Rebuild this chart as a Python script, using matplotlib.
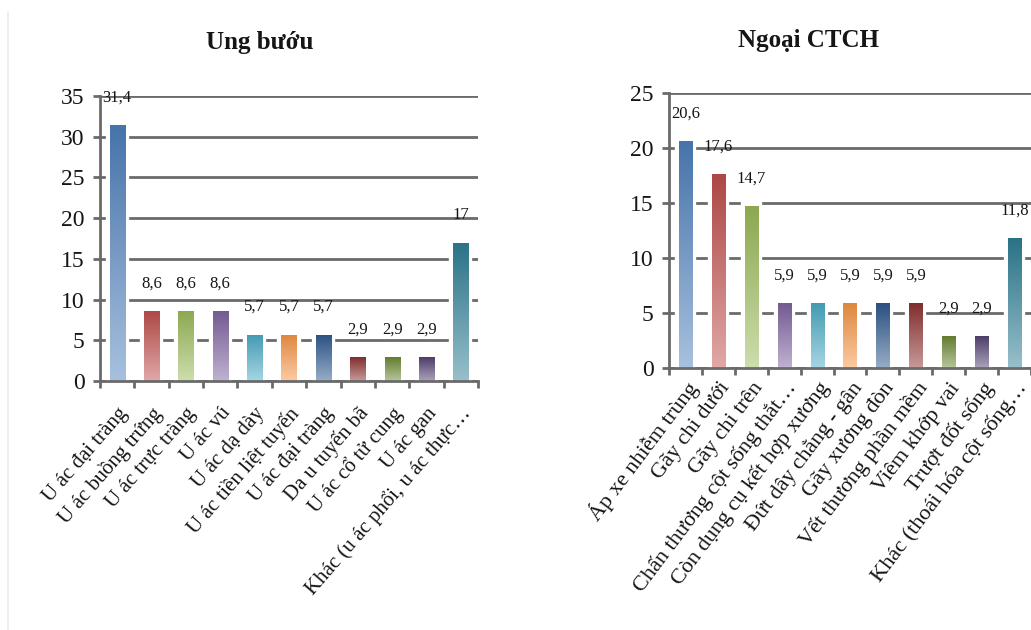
import matplotlib.pyplot as plt
import numpy as np
from matplotlib.colors import to_rgb
from matplotlib.lines import Line2D
from matplotlib.transforms import ScaledTranslation

# Ung buou (oncology) panel
onco_labels = [
    'U ác đại tràng', 'U ác buồng trứng', 'U ác trực tràng', 'U ác vú',
    'U ác dạ dày', 'U ác tiền liệt tuyến', 'U ác đại tràng', 'Da u tuyến bã',
    'U ác cổ tử cung', 'U ác gan', 'Khác (u ác phổi, u ác thực…',
]
onco_values = [31.4, 8.6, 8.6, 8.6, 5.7, 5.7, 5.7, 2.9, 2.9, 2.9, 17]

# Ngoai CTCH (orthopaedic surgery) panel
ortho_labels = [
    'Áp xe nhiễm trùng', 'Gãy chi dưới', 'Gãy chi trên',
    'Chấn thương cột sống thắt…', 'Còn dụng cụ kết hợp xương',
    'Đứt dây chằng - gân', 'Gãy xương đòn', 'Vết thương phần mềm',
    'Viêm khớp vai', 'Trượt đốt sống', 'Khác (thoái hóa cột sống…',
]
ortho_values = [20.6, 17.6, 14.7, 5.9, 5.9, 5.9, 5.9, 5.9, 2.9, 2.9, 11.8]

# office-style palette, one colour per bar
palette = ['#4F81BD', '#C0504D', '#9BBB59', '#8064A2', '#4BACC6', '#F79646',
           '#2F5A8F', '#8E3432', '#6F8A35', '#574475', '#2F7F96']

GRID = '#6A6A6A'
TEXT = '#151515'
plt.rcParams['font.family'] = ['Liberation Serif', 'DejaVu Serif']


def fmt(v):
    return f'{v:g}'.replace('.', ',')


def gradient_bars(ax, values, width):
    x = np.arange(len(values))
    # white backing gives the gap where bars cross the gridlines
    bars = ax.bar(x, values, width=width, color='white', edgecolor='white',
                  linewidth=6, zorder=2)
    for bar, c in zip(bars, palette):
        base = np.array(to_rgb(c))
        top = base * 0.9
        bottom = base + (1 - base) * 0.5
        t = np.linspace(0, 1, 64)[:, None]
        grad = (bottom * (1 - t) + top * t)[:, None, :]
        x0 = bar.get_x()
        im = ax.imshow(grad, extent=[x0, x0 + bar.get_width(), 0, bar.get_height()],
                       origin='lower', aspect='auto', interpolation='bilinear', zorder=3)
        im.set_clip_path(bar)
    for xi, v in zip(x, values):
        ax.annotate(fmt(v), (xi, v), xytext=(0, 20), textcoords='offset points',
                    ha='center', va='center', fontsize=12, color=TEXT, zorder=5)


def style_axis(ax, labels, ymax, label_size, angle, pad, shift):
    n = len(labels)
    ax.set_xlim(-0.5, n - 0.5)
    ax.set_ylim(0, ymax)
    ax.set_yticks(np.arange(0, ymax + 1, 5))
    ax.set_xticks(np.arange(n))
    ax.set_xticks(np.arange(-0.5, n, 1), minor=True)
    ax.set_xticklabels(labels, rotation=angle, ha='right', va='center',
                       rotation_mode='anchor', fontsize=label_size, color=TEXT)
    ax.tick_params(axis='x', which='major', length=0, pad=pad)
    ax.tick_params(axis='x', which='minor', length=5, width=2, color=GRID, direction='out')
    ax.tick_params(axis='y', length=5, width=2, color=GRID, labelsize=17,
                   labelcolor=TEXT, pad=6)
    # nudge the slanted labels a little to the right of their tick
    offset = ScaledTranslation(shift / 72, 0, ax.figure.dpi_scale_trans)
    for lab in ax.get_xticklabels():
        lab.set_transform(lab.get_transform() + offset)
    ax.grid(axis='y', color=GRID, linewidth=2)
    ax.set_axisbelow(True)
    for s in ('top', 'right'):
        ax.spines[s].set_visible(False)
    for s in ('left', 'bottom'):
        ax.spines[s].set_color(GRID)
        ax.spines[s].set_linewidth(2)
        ax.spines[s].set_zorder(4)


fig = plt.figure(figsize=(10.31, 6.30), dpi=100)
W, H = 1031, 630

ax1 = fig.add_axes([100 / W, 1 - 381 / H, 378 / W, 285 / H])
gradient_bars(ax1, onco_values, 0.44)
style_axis(ax1, onco_labels, 35, 15, 49, 21, 5)

ax2 = fig.add_axes([669 / W, 1 - 368 / H, 362 / W, 275 / H])
gradient_bars(ax2, ortho_values, 0.40)
style_axis(ax2, ortho_labels, 25, 16, 53, 12, 6)

fig.text(260 / W, 1 - 42 / H, 'Ung bướu', ha='center', va='center',
         fontsize=18, fontweight='bold', color=TEXT)
fig.text(808 / W, 1 - 40 / H, 'Ngoại CTCH', ha='center', va='center',
         fontsize=18, fontweight='bold', color=TEXT)

# faint frame edge of the left panel
fig.add_artist(Line2D([8 / W, 8 / W], [0, 1 - 12 / H], color='#EBEBEB', linewidth=1.2))

fig.savefig('out.png', dpi=100)
